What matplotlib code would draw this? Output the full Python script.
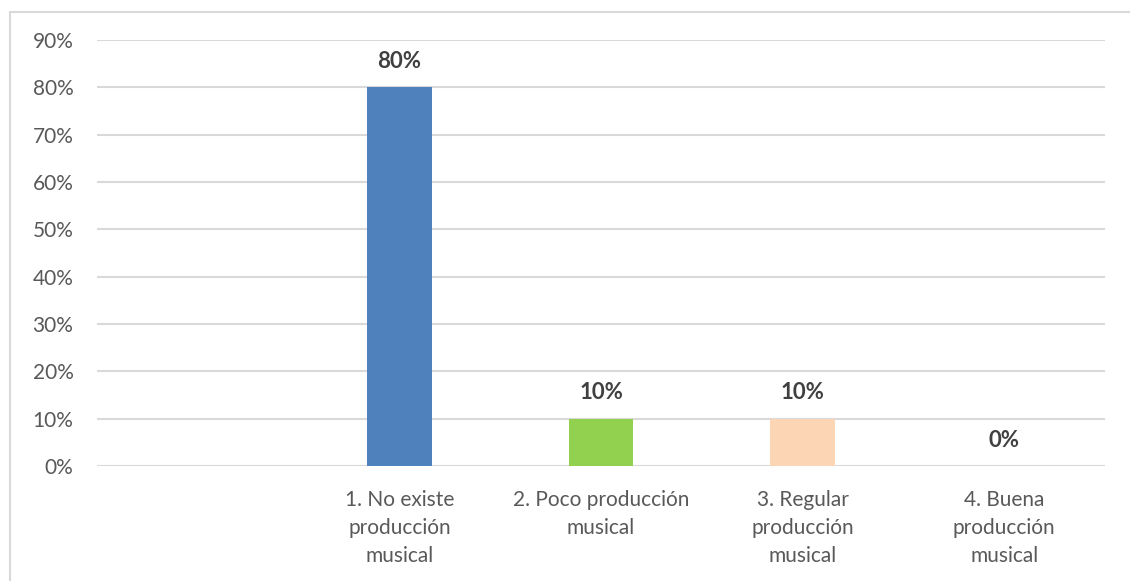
import matplotlib.pyplot as plt
from matplotlib.patches import Rectangle
from matplotlib.ticker import PercentFormatter

# categorias (la primera esta vacia en el grafico original)
categorias = ['', '1. No existe\nproducción\nmusical', '2. Poco producción\nmusical',
              '3. Regular\nproducción\nmusical', '4. Buena\nproducción\nmusical']
valores = [None, 80, 10, 10, 0]
colores = ['#4f81bd', '#4f81bd', '#92d050', '#fcd5b5', '#4f81bd']

plt.rcParams['font.family'] = ['Lato', 'DejaVu Sans']

fig = plt.figure(figsize=(11.3, 5.81), dpi=100)
# marco gris del grafico
fig.patches.append(Rectangle((10 / 1130, -0.1), 1.2, (581 - 12) / 581 + 0.1,
                             transform=fig.transFigure, fill=False,
                             edgecolor='#d9d9d9', linewidth=1.5))

ax = fig.add_axes([97 / 1130, 1 - 466 / 581, (1105 - 97) / 1130, (466 - 40) / 581])
x = list(range(len(categorias)))
for i, v in enumerate(valores):
    if v is None:
        continue
    ax.bar(i, v, width=0.32, color=colores[i], zorder=3)
    ax.annotate(f'{v}%', (i, v), xytext=(0, 11), textcoords='offset points',
                ha='center', va='bottom', fontsize=16, fontweight='bold', color='#404040')

ax.set_xlim(-0.5, len(categorias) - 0.5)
ax.set_ylim(0, 90)
ax.set_yticks(range(0, 91, 10))
ax.yaxis.set_major_formatter(PercentFormatter(decimals=0))
ax.set_xticks(x)
ax.set_xticklabels(categorias, linespacing=1.5)
ax.grid(axis='y', color='#d9d9d9', linewidth=1.5, zorder=0)
for s in ax.spines.values():
    s.set_visible(False)
ax.tick_params(axis='both', length=0, labelsize=15, colors='#595959')
ax.tick_params(axis='y', pad=17)
ax.tick_params(axis='x', pad=17)

plt.savefig('out.png', dpi=100)
